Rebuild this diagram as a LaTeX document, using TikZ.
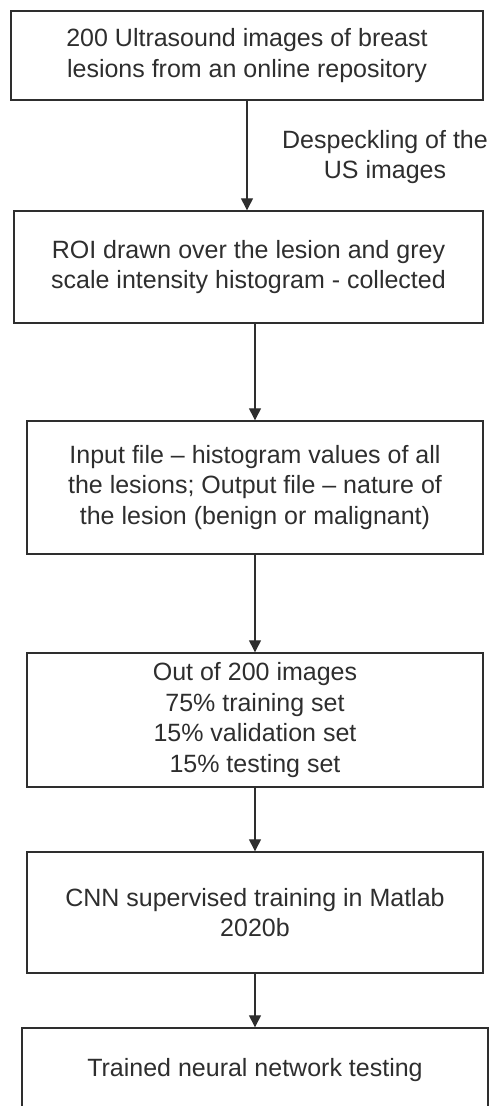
\documentclass[tikz,border=0pt]{standalone}
\usepackage{fontspec}
\setmainfont{Liberation Sans}
\usetikzlibrary{arrows.meta,calc}
\definecolor{ink}{HTML}{2E2E2E}
\begin{document}
\begin{tikzpicture}[x=1pt,y=-1pt,
  stepbox/.style={draw=ink,line width=1.4pt,rectangle,inner sep=0pt,
    align=center,text=ink,font=\fontsize{25}{30.5}\selectfont},
  flow/.style={draw=ink,line width=1.3pt,-{Triangle[width=12pt,length=12pt]}},
  note/.style={align=center,text=ink,font=\fontsize{25}{30.5}\selectfont}]
\useasboundingbox (0,0) rectangle (493,1106);
\clip (0,0) rectangle (493,1106);

\node[stepbox,minimum width=472pt,minimum height=89pt] (b1) at (247,55.5)
  {200 Ultrasound images of breast\\lesions from an online repository};
\node[stepbox,minimum width=469pt,minimum height=112pt] (b2) at (248.5,267)
  {ROI drawn over the lesion and grey\\scale intensity histogram - collected};
\node[stepbox,minimum width=456pt,minimum height=133pt] (b3) at (255,487.5)
  {Input file -- histogram values of all\\the lesions; Output file -- nature of\\the lesion (benign or malignant)};
\node[stepbox,minimum width=456pt,minimum height=134pt] (b4) at (255,720)
  {Out of 200 images\\75\% training set\\15\% validation set\\15\% testing set};
\node[stepbox,minimum width=456pt,minimum height=121pt] (b5) at (255,912.5)
  {CNN supervised training in Matlab\\2020b};
\node[stepbox,minimum width=466pt,minimum height=84pt] (b6) at (255,1070)
  {Trained neural network testing};

\node[note] (lbl) at (385,157) {Despeckling of the\\US images};

\draw[flow] (b1.south) -- (b1.south |- b2.north);
\draw[flow] (b2.south -| b3.north) -- (b3.north);
\draw[flow] (b3.south) -- (b4.north);
\draw[flow] (b4.south) -- (b5.north);
\draw[flow] (b5.south) -- (b6.north);
\end{tikzpicture}
\end{document}
